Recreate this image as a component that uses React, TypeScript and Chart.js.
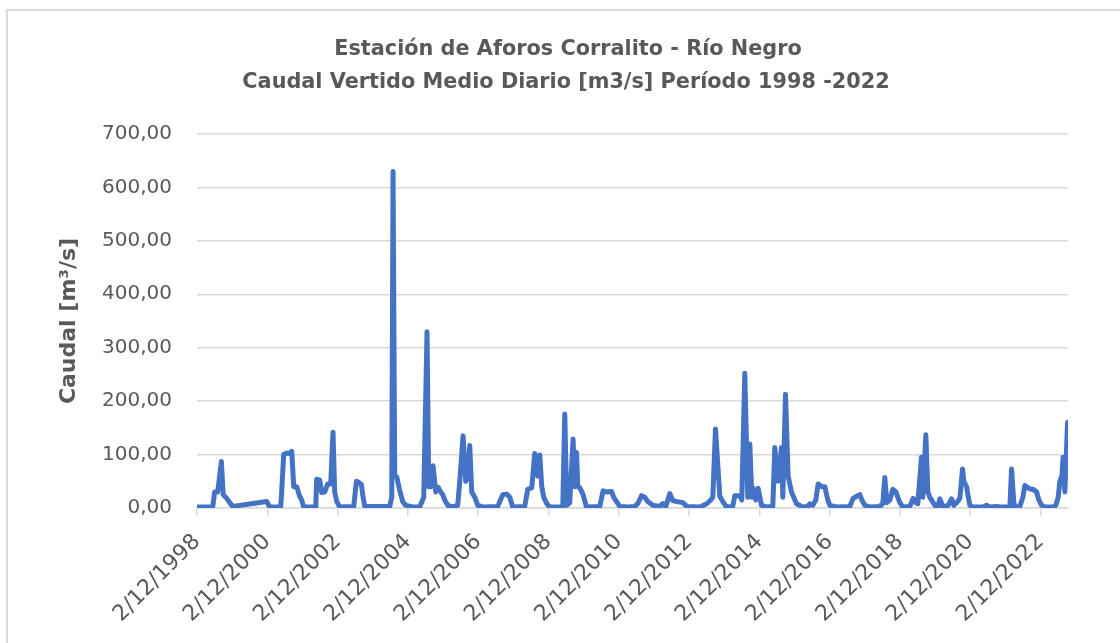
import { useEffect, useRef } from 'react';
import { Chart, registerables } from 'chart.js';
Chart.register(...registerables);

// Fechas como año decimal (1998.918 = 2/12/1998)
const fechas = [
  1998.918, 1999.365, 1999.421, 1999.507, 1999.612, 1999.663, 1999.763, 1999.848, 1999.934, 2000.901,
  2000.987, 2001.300, 2001.328, 2001.385, 2001.470, 2001.556, 2001.613, 2001.670, 2001.755, 2001.840,
  2001.897, 2001.954, 2002.296, 2002.324, 2002.410, 2002.466, 2002.552, 2002.637, 2002.723, 2002.788,
  2002.836, 2002.893, 2002.979, 2003.377, 2003.454, 2003.519, 2003.596, 2003.633, 2003.690, 2004.402,
  2004.459, 2004.496, 2004.544, 2004.601, 2004.686, 2004.772, 2004.857, 2005.056, 2005.255, 2005.369,
  2005.463, 2005.511, 2005.568, 2005.634, 2005.711, 2005.776, 2005.853, 2005.910, 2005.967, 2006.052,
  2006.194, 2006.337, 2006.394, 2006.488, 2006.564, 2006.621, 2006.678, 2006.735, 2006.821, 2006.906,
  2007.048, 2007.475, 2007.617, 2007.731, 2007.817, 2007.902, 2008.243, 2008.329, 2008.443, 2008.528,
  2008.613, 2008.670, 2008.727, 2008.784, 2008.870, 2008.955, 2009.325, 2009.382, 2009.439, 2009.524,
  2009.618, 2009.666, 2009.715, 2009.752, 2009.809, 2009.903, 2009.999, 2010.378, 2010.472, 2010.577,
  2010.711, 2010.776, 2010.853, 2010.947, 2011.175, 2011.374, 2011.459, 2011.565, 2011.658, 2011.744,
  2011.886, 2012.085, 2012.171, 2012.256, 2012.370, 2012.455, 2012.569, 2012.740, 2012.854, 2013.224,
  2013.423, 2013.537, 2013.594, 2013.670, 2013.736, 2013.793, 2013.878, 2013.983, 2014.163, 2014.220,
  2014.362, 2014.419, 2014.504, 2014.590, 2014.647, 2014.703, 2014.740, 2014.817, 2014.883, 2014.979,
  2015.122, 2015.301, 2015.358, 2015.443, 2015.549, 2015.586, 2015.662, 2015.737, 2015.833, 2015.975,
  2016.155, 2016.297, 2016.354, 2016.439, 2016.525, 2016.590, 2016.695, 2016.781, 2016.866, 2016.923,
  2017.114, 2017.492, 2017.586, 2017.692, 2017.777, 2017.834, 2017.919, 2018.061, 2018.346, 2018.431,
  2018.488, 2018.545, 2018.631, 2018.716, 2018.801, 2018.915, 2019.001, 2019.200, 2019.294, 2019.371,
  2019.427, 2019.532, 2019.570, 2019.655, 2019.712, 2019.769, 2019.911, 2019.997, 2020.054, 2020.148,
  2020.290, 2020.387, 2020.452, 2020.529, 2020.623, 2020.699, 2020.736, 2020.813, 2020.850, 2020.907,
  2021.001, 2021.277, 2021.382, 2021.476, 2021.667, 2021.761, 2022.046, 2022.094, 2022.159, 2022.188,
  2022.330, 2022.416, 2022.472, 2022.558, 2022.643, 2022.709, 2022.806, 2022.871, 2022.948, 2023.042,
  2023.278, 2023.355, 2023.420, 2023.468, 2023.525, 2023.562, 2023.611, 2023.687,
];

// Caudal vertido medio diario [m3/s]
const caudal = [
  2, 2, 30, 30, 87, 25, 18, 10, 3, 12,
  2, 2, 32, 100, 103, 102, 106, 40, 40, 22,
  15, 2, 2, 54, 52, 29, 30, 45, 45, 142,
  30, 12, 2, 3, 50, 48, 44, 25, 3, 3,
  20, 630, 60, 58, 33, 12, 5, 2, 2, 20,
  330, 40, 40, 79, 30, 39, 30, 25, 15, 5,
  2, 5, 50, 135, 50, 60, 117, 30, 20, 5,
  2, 3, 25, 26, 20, 2, 3, 35, 38, 102,
  60, 99, 40, 20, 8, 2, 2, 176, 5, 10,
  129, 40, 104, 40, 38, 25, 2, 3, 32, 30,
  31, 20, 12, 3, 2, 3, 8, 23, 20, 12,
  5, 3, 8, 3, 27, 14, 12, 10, 3, 2,
  8, 15, 20, 148, 80, 22, 12, 2, 3, 23,
  23, 15, 252, 20, 120, 20, 37, 15, 37, 5,
  2, 3, 113, 50, 113, 20, 213, 60, 30, 8,
  2, 3, 8, 5, 15, 45, 40, 40, 15, 5,
  2, 3, 18, 22, 25, 15, 5, 2, 3, 8,
  57, 10, 15, 35, 30, 10, 2, 3, 18, 10,
  8, 95, 20, 137, 30, 20, 5, 3, 17, 2,
  5, 17, 5, 10, 18, 73, 50, 40, 25, 5,
  2, 2, 5, 2, 3, 2, 2, 73, 10, 2,
  3, 20, 42, 38, 35, 35, 30, 15, 5, 2,
  2, 5, 20, 50, 60, 95, 30, 160,
];

const tickYears = [1998, 2000, 2002, 2004, 2006, 2008, 2010, 2012, 2014, 2016, 2018, 2020, 2022];
const tickLabels = [
  '2/12/1998', '2/12/2000', '2/12/2002', '2/12/2004', '2/12/2006', '2/12/2008', '2/12/2010',
  '2/12/2012', '2/12/2014', '2/12/2016', '2/12/2018', '2/12/2020', '2/12/2022',
];
const DEC2 = 0.918; // 2 de diciembre como fracción de año
const xMin = 1998.918;
const xMax = 2023.7;
const yMin = 0;
const yMax = 700;
const yStep = 100;

const titleLines = ['Estación de Aforos Corralito - Río Negro', 'Caudal Vertido Medio Diario [m3/s] Período 1998 -2022'];
const yTitle = 'Caudal [m³/s]';

const titlePlugin = {
  id: 'twoLineTitle',
  afterDraw(chart: any) {
    const ctx = chart.ctx;
    ctx.save();
    ctx.fillStyle = '#595959';
    ctx.font = "bold 20.8px 'DejaVu Sans'";
    ctx.textAlign = 'center';
    ctx.textBaseline = 'middle';
    ctx.fillText(titleLines[0], 560, 39);
    ctx.fillText(titleLines[1], 558, 72);
    ctx.restore();
  },
};

export default function App() {
  const ref = useRef<HTMLCanvasElement>(null);
  useEffect(() => {
    document.body.style.overflow = 'hidden';
    const points = fechas.map((f, i) => ({ x: f, y: caudal[i] }));
    const chart = new Chart(ref.current as HTMLCanvasElement, {
      type: 'line',
      data: {
        datasets: [
          {
            data: points,
            borderColor: '#4472C4',
            backgroundColor: '#4472C4',
            borderWidth: 5,
            pointRadius: 0,
            tension: 0,
            borderJoinStyle: 'round',
            borderCapStyle: 'round',
          },
        ],
      },
      plugins: [titlePlugin],
      options: {
        animation: false,
        responsive: false,
        layout: { padding: { left: 0, right: 52, top: 123, bottom: 0 } },
        plugins: {
          legend: { display: false },
          tooltip: { enabled: false },
          title: { display: false },
        },
        scales: {
          x: {
            type: 'linear',
            min: xMin,
            max: xMax,
            afterFit: (s: any) => { s.height = 135; },
            afterBuildTicks: (s: any) => { s.ticks = tickYears.map((y) => ({ value: y + DEC2 })); },
            ticks: {
              autoSkip: false,
              minRotation: 45,
              maxRotation: 45,
              padding: 13,
              color: '#595959',
              font: { family: "'DejaVu Sans'", size: 22 },
              callback: (_v: any, i: number) => tickLabels[i],
            },
            grid: { display: true, drawOnChartArea: false, drawTicks: true, tickLength: 8, color: '#d9d9d9', lineWidth: 1.5 },
            border: { display: true, color: '#d9d9d9', width: 1.5 },
          },
          y: {
            min: yMin,
            max: yMax,
            afterFit: (s: any) => { s.width = 189; },
            ticks: {
              stepSize: yStep,
              padding: 25,
              color: '#595959',
              font: { family: "'DejaVu Sans'", size: 20 },
              callback: (v: any) => Number(v).toFixed(2).replace('.', ','),
            },
            grid: { color: '#d9d9d9', lineWidth: 1.5, drawTicks: false },
            border: { display: false },
            title: {
              display: true,
              text: yTitle,
              color: '#595959',
              font: { family: "'DejaVu Sans'", size: 22, weight: 'bold', lineHeight: 1.2 },
              padding: { top: 47.8, bottom: 0 },
            },
          },
        },
      },
    });
    return () => chart.destroy();
  }, []);
  return (
    <div
      style={{
        position: 'absolute',
        left: 6,
        top: 9,
        width: 1114,
        height: 634,
        borderTop: '2px solid #d9d9d9',
        borderLeft: '2px solid #d9d9d9',
        background: '#fff',
      }}
    >
      <canvas ref={ref} width={1112} height={632} style={{ display: 'block', width: 1112, height: 632 }} />
    </div>
  );
}
